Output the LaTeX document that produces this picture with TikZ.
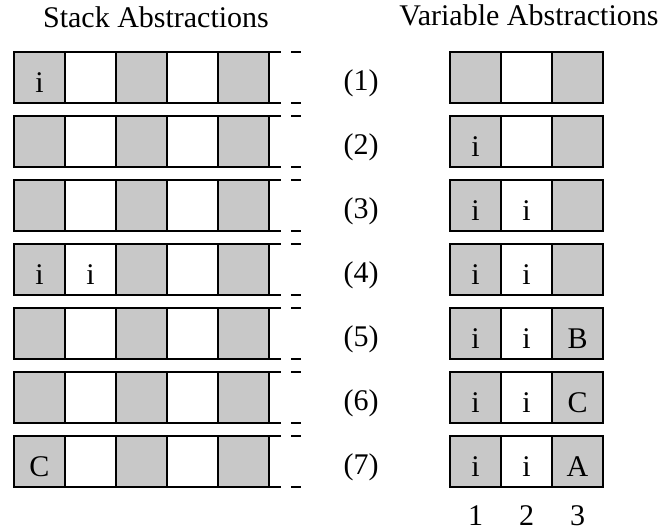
\documentclass[tikz,border=0pt]{standalone}
\usepackage{fontspec}
\setmainfont{Liberation Serif}
\definecolor{cellgray}{RGB}{200,200,200}
\begin{document}
\begin{tikzpicture}[x=1pt,y=-1pt,
  cell/.style={draw=black, line width=1.5pt, minimum width=51pt, minimum height=51pt, inner sep=0pt, outer sep=0pt},
  shaded/.style={cell, fill=cellgray},
  plain/.style={cell, fill=white},
  rulel/.style={line width=2pt},
  txt/.style={font=\fontsize{30}{36}\selectfont, inner sep=0pt, anchor=base},
]
\useasboundingbox (0,0) rectangle (664,531);
\node[txt] (titleL) at (156,27) {Stack Abstractions};
\node[txt] (titleR) at (529,25) {Variable Abstractions};
\foreach \r in {1,...,7} {
  \pgfmathsetmacro\cy{52+64*(\r-1)+25.5}
  % left stack row
  \foreach \c/\s in {1/shaded,2/plain,3/shaded,4/plain,5/shaded} {
    \node[\s] (L-\r-\c) at ({39.5+51*(\c-1)},\cy) {};
  }
  \coordinate (Lte-\r) at ([xshift=12pt]L-\r-5.north east);
  \coordinate (Lbe-\r) at ([xshift=12pt]L-\r-5.south east);
  \coordinate (Dta-\r) at ([xshift=22pt]L-\r-5.north east);
  \coordinate (Dtb-\r) at ([xshift=32pt]L-\r-5.north east);
  \coordinate (Dba-\r) at ([xshift=22pt]L-\r-5.south east);
  \coordinate (Dbb-\r) at ([xshift=32pt]L-\r-5.south east);
  \draw[rulel] (L-\r-1.north west) -- (Lte-\r);
  \draw[rulel] (L-\r-1.south west) -- (Lbe-\r);
  \draw[rulel] (Dta-\r) -- (Dtb-\r);
  \draw[rulel] (Dba-\r) -- (Dbb-\r);
  % row label
  \node[txt] (N-\r) at (361,{\cy+12.5}) {(\r)};
  % right variable row
  \foreach \c/\s in {1/shaded,2/plain,3/shaded} {
    \node[\s] (R-\r-\c) at ({475.5+51*(\c-1)},\cy) {};
  }
}
\foreach \r/\c/\t in {1/1/i, 4/1/i, 4/2/i, 7/1/C} {
  \node[txt] (LT-\r-\c) at ([yshift=-14.5pt]L-\r-\c.center) {\t};
}
\foreach \r/\c/\t in {2/1/i, 3/1/i, 3/2/i, 4/1/i, 4/2/i, 5/1/i, 5/2/i, 5/3/B, 6/1/i, 6/2/i, 6/3/C, 7/1/i, 7/2/i, 7/3/A} {
  \node[txt] (RT-\r-\c) at ([yshift=-14.5pt]R-\r-\c.center) {\t};
}
\foreach \c in {1,2,3} {
  \node[txt] (col-\c) at ([yshift=-63.5pt]R-7-\c.center) {\c};
}
\end{tikzpicture}
\end{document}
